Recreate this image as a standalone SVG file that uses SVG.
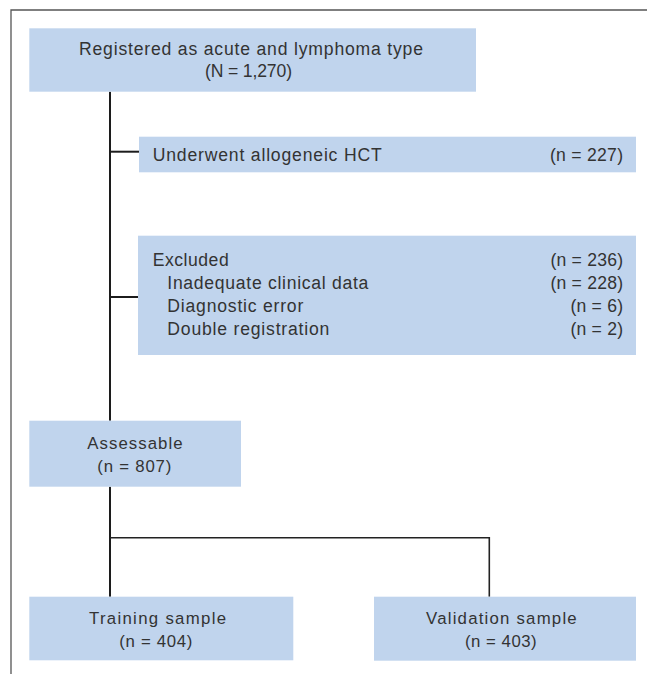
<svg xmlns="http://www.w3.org/2000/svg" width="647" height="674" viewBox="0 0 647 674">
<style>
.box{fill:#c0d4ed;}
.t{font-family:"Liberation Sans",Arial,sans-serif;font-size:17.6px;fill:#333333;}
.s{font-size:16.8px;}
.e{text-anchor:end;}
.c{stroke:#1c1c1c;stroke-width:2;fill:none;}
.c2{stroke:#222222;stroke-width:1.6;fill:none;}
.frame{stroke:#555555;stroke-width:1.3;fill:none;}
</style>
<rect x="0" y="0" width="647" height="674" fill="#ffffff"/>
<path class="frame" d="M11,674 V10 H647"/>
<g id="connectors">
<path class="c" d="M110,91.7 V420.7"/>
<path class="c" d="M110,151.7 H139"/>
<path class="c" d="M110,297 H138"/>
<path class="c" d="M110,486.7 V596.7"/>
<path class="c2" d="M110,537.7 H489.3 V596.7"/>
</g>
<g id="registered">
<rect class="box" x="29.3" y="28.3" width="446.7" height="63.4"/>
<text class="t" x="79" y="55" textLength="344" lengthAdjust="spacing">Registered as acute and lymphoma type</text>
<text class="t" x="205" y="77" textLength="87" lengthAdjust="spacing">(N = 1,270)</text>
</g>
<g id="hct">
<rect class="box" x="139" y="136.7" width="497" height="35.6"/>
<text class="t" x="152.7" y="161" textLength="229" lengthAdjust="spacing">Underwent allogeneic HCT</text>
<text class="t e" x="623" y="161" textLength="73" lengthAdjust="spacing">(n = 227)</text>
</g>
<g id="excluded">
<rect class="box" x="138" y="235.7" width="498" height="119.3"/>
<text class="t" x="152.7" y="266" textLength="76" lengthAdjust="spacing">Excluded</text>
<text class="t e" x="623" y="266" textLength="72.6" lengthAdjust="spacing">(n = 236)</text>
<text class="t" x="167.3" y="289" textLength="201" lengthAdjust="spacing">Inadequate clinical data</text>
<text class="t e" x="623" y="289" textLength="72.6" lengthAdjust="spacing">(n = 228)</text>
<text class="t" x="167.3" y="312" textLength="136" lengthAdjust="spacing">Diagnostic error</text>
<text class="t e" x="623" y="312" textLength="52.6" lengthAdjust="spacing">(n = 6)</text>
<text class="t" x="167.3" y="335" textLength="162" lengthAdjust="spacing">Double registration</text>
<text class="t e" x="623" y="335" textLength="52.6" lengthAdjust="spacing">(n = 2)</text>
</g>
<g id="assessable">
<rect class="box" x="29.3" y="420.7" width="211.7" height="66"/>
<text class="t s" x="87.3" y="449" textLength="95.3" lengthAdjust="spacing">Assessable</text>
<text class="t s" x="97.3" y="471.7" textLength="74" lengthAdjust="spacing">(n = 807)</text>
</g>
<g id="training">
<rect class="box" x="29.3" y="596.7" width="264" height="63.6"/>
<text class="t s" x="89" y="624" textLength="137" lengthAdjust="spacing">Training sample</text>
<text class="t s" x="119.3" y="647" textLength="73" lengthAdjust="spacing">(n = 404)</text>
</g>
<g id="validation">
<rect class="box" x="374" y="596.7" width="262" height="64"/>
<text class="t s" x="426" y="624" textLength="150.7" lengthAdjust="spacing">Validation sample</text>
<text class="t s" x="465" y="646.7" textLength="71.7" lengthAdjust="spacing">(n = 403)</text>
</g>
</svg>
